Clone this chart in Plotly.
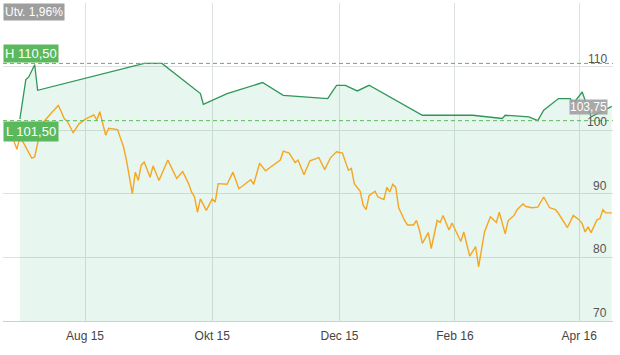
import pandas as pd
import plotly.graph_objects as go

# Stockholm exchange holidays in the period (non-trading weekdays)
holidays = ["2015-12-24", "2015-12-25", "2015-12-31", "2016-01-01",
            "2016-01-06", "2016-03-25", "2016-03-28"]
base_date = "2015-08-03"  # trading-day offsets below are counted from this day

# Fund (green) – trading-day offset and value
green_day = [-22, -20, -19, -17, -16, 20, 26, 39, 40, 48, 60, 67, 82, 85, 88, 92, 96,
             114, 131, 141, 142, 150, 153, 155, 160, 164, 165, 168, 171, 178]
green_val = [101.76, 107.96, 108.37, 110.3, 106.28, 110.5, 110.5, 105.76, 104.08, 105.76,
             107.49, 105.49, 104.98, 107.06, 107.06, 106.17, 107.06, 102.35, 102.35, 101.84,
             102.35, 102.09, 101.5, 103.14, 104.98, 104.98, 104.19, 106.01, 102.09, 103.75]

# Comparison index (orange)
orange_day = [-25, -23, -22, -21, -18, -17, -15, -14, -11, -9, -8, -7, -6, -4, -2, 0, 3, 4, 5, 7,
              8, 11, 13, 14, 16, 17, 18, 19, 20, 22, 23, 25, 28, 29, 31, 33, 35, 36, 37, 38,
              39, 41, 43, 44, 45, 48, 50, 52, 54, 56, 57, 59, 61, 63, 66, 67, 69, 71, 72, 74,
              76, 79, 81, 83, 85, 87, 89, 90, 91, 93, 94, 95, 96, 98, 99, 101, 102, 103, 104, 105,
              106, 108, 109, 111, 112, 113, 114, 116, 117, 119, 120, 121, 123, 124, 127, 128, 130, 132, 133, 135,
              137, 139, 140, 142, 143, 145, 146, 148, 149, 151, 153, 155, 157, 159, 160, 163, 165, 167, 168, 169,
              170, 171, 173, 174, 175, 176, 178]
orange_val = [99.5, 97.0, 98.9, 98.2, 95.6, 95.8, 100.1, 101.3, 102.9, 103.9, 102.9, 101.8, 101.4, 99.6, 101.0, 101.7, 102.4, 101.6, 102.9, 99.2,
              100.3, 100.1, 97.4, 95.3, 90.0, 93.4, 92.1, 94.5, 95.0, 92.6, 94.4, 92.1, 95.3, 94.3, 92.4, 93.5, 91.6, 90.3, 89.5, 87.1,
              89.2, 87.4, 89.2, 88.7, 91.6, 91.5, 93.4, 90.8, 91.5, 92.2, 91.5, 94.8, 93.6, 94.3, 95.3, 96.7, 96.4, 94.9, 95.3, 93.0,
              95.2, 95.7, 93.8, 95.7, 96.6, 96.4, 93.7, 94.0, 91.6, 90.4, 88.2, 87.5, 89.7, 90.4, 89.5, 89.1, 91.0, 90.3, 91.5, 91.0,
              87.8, 85.8, 85.1, 85.1, 85.8, 84.3, 82.2, 83.9, 81.4, 85.8, 85.5, 86.6, 84.3, 85.4, 82.5, 84.0, 80.2, 81.7, 78.5, 84.0,
              86.4, 85.5, 87.1, 83.7, 85.8, 86.6, 87.5, 88.4, 88.0, 87.8, 87.9, 89.5, 87.8, 87.5, 86.9, 84.7, 86.6, 85.9, 85.3, 84.0,
              84.8, 83.9, 85.9, 86.1, 87.5, 87.0, 87.0]

tick_dates = ["2015-08-03", "2015-10-01", "2015-12-01", "2016-02-01", "2016-04-01"]
tick_text = ["Aug 15", "Okt 15", "Dec 15", "Feb 16", "Apr 16"]
y_ticks = [70, 80, 90, 100, 110]
x_range = ["2015-06-24 07:00", "2016-04-18 10:00"]
y_range = [70, 120]

cal = pd.bdate_range("2015-06-01", "2016-05-31")
cal = cal[~cal.isin(pd.to_datetime(holidays))]
base = cal.get_loc(pd.Timestamp(base_date))


def to_dates(days):
    return [cal[base + d] for d in days]


def sv(v):
    return f"{v:.2f}".replace(".", ",")


FONT = "Liberation Sans, Arial, Helvetica, sans-serif"
GREEN_LINE = "#2e9659"
GREEN_BOX = "#5cb85c"
ORANGE = "#f5a623"

fig = go.Figure()
fig.add_trace(go.Scatter(x=to_dates(green_day), y=green_val, mode="lines",
                         line=dict(color=GREEN_LINE, width=1.3),
                         fill="tozeroy", fillcolor="rgba(60,179,113,0.12)",
                         hoverinfo="skip"))
fig.add_trace(go.Scatter(x=to_dates(orange_day), y=orange_val, mode="lines",
                         line=dict(color=ORANGE, width=1.4), hoverinfo="skip"))

hi, lo, last, first = max(green_val), min(green_val), green_val[-1], green_val[0]
utv = (last / first - 1) * 100

for v in (hi, lo):
    fig.add_shape(type="line", xref="paper", x0=0, x1=1, yref="y", y0=v, y1=v,
                  line=dict(color=GREEN_BOX, width=1, dash="4px,3px"))

anns = []
for v in y_ticks:
    anns.append(dict(x=1, xref="paper", xanchor="right", xshift=-4, y=v, yref="y",
                     yanchor="bottom", yshift=-1, text=str(v), showarrow=False,
                     font=dict(family=FONT, size=12, color="#555")))
anns.append(dict(x=0, xref="paper", xanchor="left", y=hi, yref="y", yanchor="bottom",
                 text="H " + sv(hi), showarrow=False, bgcolor=GREEN_BOX, borderpad=1,
                 font=dict(family=FONT, size=13, color="white")))
anns.append(dict(x=0, xref="paper", xanchor="left", y=lo, yref="y", yanchor="top",
                 text="L " + sv(lo), showarrow=False, bgcolor=GREEN_BOX, borderpad=2,
                 font=dict(family=FONT, size=13, color="white")))
anns.append(dict(x=0, xref="paper", xanchor="left", y=1, yref="paper", yanchor="top",
                 text="Utv. " + f"{utv:.2f}".replace(".", ",") + "%", showarrow=False,
                 bgcolor="#9e9e9e", borderpad=1,
                 font=dict(family=FONT, size=12, color="white")))
anns.append(dict(x=1, xref="paper", xanchor="right", xshift=-5, y=last, yref="y",
                 yanchor="middle", yshift=-1, text=sv(last), showarrow=False,
                 bgcolor="rgba(160,160,160,0.9)", borderpad=0,
                 font=dict(family=FONT, size=12, color="white")))

fig.update_layout(
    width=620, height=355,
    margin=dict(l=3, r=7, t=3, b=34),
    paper_bgcolor="white", plot_bgcolor="white",
    showlegend=False,
    annotations=anns,
    font=dict(family=FONT),
    xaxis=dict(type="date", range=x_range,
               rangebreaks=[dict(bounds=["sat", "mon"]), dict(values=holidays)],
               tickvals=tick_dates, ticktext=tick_text,
               showgrid=True, gridcolor="#dde2e0", gridwidth=1,
               showline=True, linecolor="#c8d2db", linewidth=1,
               ticks="outside", ticklen=4, tickcolor="rgba(0,0,0,0)",
               tickfont=dict(family=FONT, size=12, color="#444"),
               zeroline=False, fixedrange=True),
    yaxis=dict(side="right", range=y_range, tickvals=y_ticks, showticklabels=False,
               showgrid=True, gridcolor="#dde2e0", gridwidth=1, zeroline=False,
               fixedrange=True),
)

fig.write_html("out.html")
